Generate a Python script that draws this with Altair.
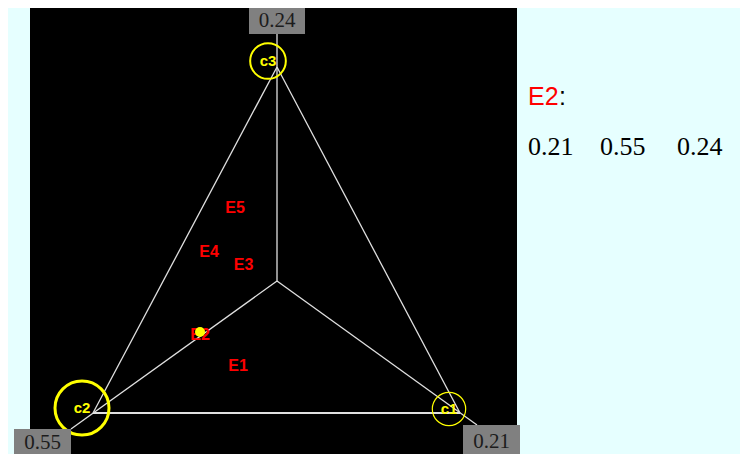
import altair as alt
import pandas as pd

# ---- data (diagram units) ----
corners = ["c1", "c2", "c3"]
e2_composition = [0.21, 0.55, 0.24]

vertex_x = [460, 93, 277]
vertex_y = [413, 413, 67]
center_x = [277]
center_y = [281]
spoke_end_x = [477, 71, 277]
spoke_end_y = [425, 429, 34]

marker_x = [449, 82, 268]
marker_y = [409, 408, 61]
ring_widths = [1.2, 3, 2]

box_x0 = [463, 14, 249]
box_x1 = [520, 71, 305]
box_y0 = [425, 429, 2]
box_y1 = [455, 462, 34]
box_text_x = [491.5, 42.5, 277]
box_text_y = [447.5, 449, 27]

samples = ["E1", "E2", "E3", "E4", "E5"]
sample_x = [238, 200, 243.5, 209, 235]
sample_y = [366, 334.5, 264.5, 251.5, 207.5]
selected = "E2"
selected_pos = [200, 332]

panel_x = [30, 517]
panel_y = [8, 462]

readout_x = [528, 600, 677]
readout_title_pos = [528, 105]
readout_values_y = 155

# ---- scales (chart fits inside the page: 732 x 446 at offset 8,8) ----
W, H = 732, 446
xs = alt.Scale(domain=[8, 8 + W], nice=False, zero=False)
ys = alt.Scale(domain=[8, 8 + H], nice=False, zero=False, reverse=True)


def X(f="x"):
    return alt.X(f"{f}:Q", scale=xs, axis=None)


def Y(f="y"):
    return alt.Y(f"{f}:Q", scale=ys, axis=None)


# ---- tables ----
panel_df = pd.DataFrame({"x": [panel_x[0]], "x2": [panel_x[1]], "y": [panel_y[0]], "y2": [panel_y[1]]})

edges = []
for i in range(3):
    j = (i + 1) % 3
    edges.append({"x": vertex_x[i], "y": vertex_y[i], "x2": vertex_x[j], "y2": vertex_y[j],
                  "w": 2 if vertex_y[i] == vertex_y[j] else 1.3})
for i in range(3):
    edges.append({"x": center_x[0], "y": center_y[0], "x2": spoke_end_x[i], "y2": spoke_end_y[i], "w": 1.3})
edges_df = pd.DataFrame(edges)

rings_df = pd.DataFrame({"x": marker_x, "y": marker_y, "name": corners,
                         "value": e2_composition, "sw": ring_widths})

boxes_df = pd.DataFrame({"x": box_x0, "x2": box_x1, "y": box_y0, "y2": box_y1,
                         "tx": box_text_x, "ty": box_text_y,
                         "label": [f"{v:.2f}" for v in e2_composition]})

samples_df = pd.DataFrame({"x": sample_x, "y": sample_y, "name": samples})
dot_df = pd.DataFrame({"x": [selected_pos[0]], "y": [selected_pos[1]]})

title_df = pd.DataFrame({"x": [readout_title_pos[0]], "y": [readout_title_pos[1]], "t": [selected]})
colon_df = pd.DataFrame({"x": [readout_title_pos[0] + 31], "y": [readout_title_pos[1]], "t": [":"]})
values_df = pd.DataFrame({"x": readout_x, "y": [readout_values_y] * 3,
                          "t": [f"{v:.2f}" for v in e2_composition]})

# ---- layers ----
panel = alt.Chart(panel_df).mark_rect(color="#000000").encode(
    x=X(), x2="x2", y=Y(), y2="y2")

lines = alt.Chart(edges_df).mark_rule(color="#e0e0e0").encode(
    x=X(), y=Y(), x2="x2", y2="y2",
    strokeWidth=alt.StrokeWidth("w:Q", scale=None, legend=None))

rings = alt.Chart(rings_df).mark_point(shape="circle", filled=False, color="#ffff00", opacity=1).encode(
    x=X(), y=Y(),
    size=alt.Size("value:Q", scale=alt.Scale(domain=[0, 0.55], range=[0, 2916]), legend=None),
    strokeWidth=alt.StrokeWidth("sw:Q", scale=None, legend=None))

ring_labels = alt.Chart(rings_df).mark_text(
    font="Liberation Sans", fontSize=15, fontWeight="bold", color="#ffff00",
    align="center", baseline="middle").encode(x=X(), y=Y(), text="name:N")

sample_labels = alt.Chart(samples_df).mark_text(
    font="Liberation Sans", fontSize=16, fontWeight="bold", color="#ff0000",
    align="center", baseline="middle").encode(x=X(), y=Y(), text="name:N")

dot = alt.Chart(dot_df).mark_circle(color="#ffff00", opacity=1, size=100).encode(x=X(), y=Y())

boxes = alt.Chart(boxes_df).mark_rect(color="#808080").encode(x=X(), x2="x2", y=Y(), y2="y2")
box_text = alt.Chart(boxes_df).mark_text(
    font="Liberation Serif", fontSize=21, color="#1c1c1c",
    align="center", baseline="alphabetic").encode(x=X("tx"), y=Y("ty"), text="label:N")

title_text = alt.Chart(title_df).mark_text(
    font="Liberation Sans", fontSize=25, color="#ff0000",
    align="left", baseline="alphabetic").encode(x=X(), y=Y(), text="t:N")
colon_text = alt.Chart(colon_df).mark_text(
    font="Liberation Sans", fontSize=25, color="#000000",
    align="left", baseline="alphabetic").encode(x=X(), y=Y(), text="t:N")
values_text = alt.Chart(values_df).mark_text(
    font="Liberation Serif", fontSize=26, color="#000000",
    align="left", baseline="alphabetic").encode(x=X(), y=Y(), text="t:N")

chart = alt.layer(
    panel, lines, rings, ring_labels, sample_labels, dot, boxes, box_text,
    title_text, colon_text, values_text
).properties(
    width=W, height=H,
    autosize=alt.AutoSizeParams(type="none"),
    padding=0,
    background="#e6ffff",
).configure_view(strokeWidth=0)

chart.save("out.html", embed_options={"renderer": "svg", "actions": False})
